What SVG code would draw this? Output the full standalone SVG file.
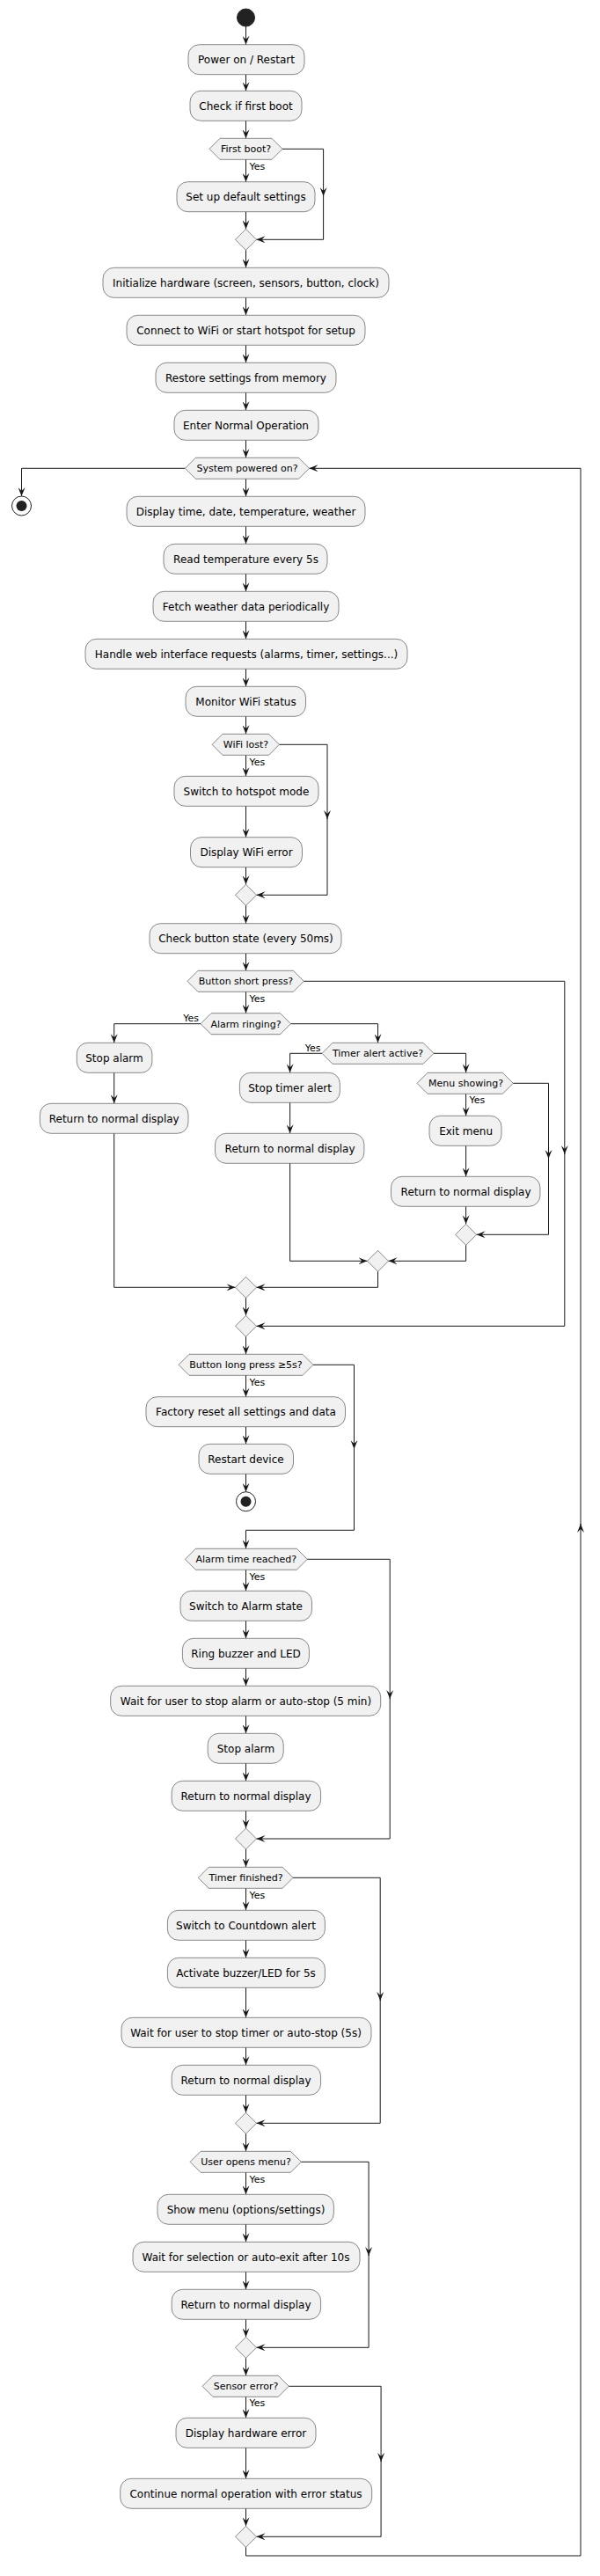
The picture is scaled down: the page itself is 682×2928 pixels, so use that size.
<svg xmlns="http://www.w3.org/2000/svg" width="682" height="2928" viewBox="0 0 682 2928">
<style>
.b{fill:#F1F1F1;stroke:#181818;stroke-width:0.5}
.t{font-family:"DejaVu Sans",sans-serif;font-size:12px;text-anchor:middle;fill:#000}
.s{font-family:"DejaVu Sans",sans-serif;font-size:11px;fill:#000}
.m{text-anchor:middle}
.e{text-anchor:end}
.c{fill:none;stroke:#181818;stroke-width:1;marker-end:url(#a)}
.n{fill:none;stroke:#181818;stroke-width:1}
</style>
<defs>
<marker id="a" markerUnits="userSpaceOnUse" viewBox="0 0 10 8" refX="10" refY="4" markerWidth="10" markerHeight="8" orient="auto">
<path d="M0,0 L10,4 L0,8 L4,4 Z" fill="#181818"/>
</marker>
</defs>
<rect width="682" height="2928" fill="#FFFFFF"/>
<g id="connectors">
<path class="c" d="M279.5,30 V50.7"/>
<path class="c" d="M279.5,84.7 V103.3"/>
<path class="c" d="M279.5,137.3 V157.3"/>
<path class="c" d="M279.5,181.3 V206.7"/>
<path class="c" d="M279.5,240.7 V260.3"/>
<path class="c" d="M321,169.3 H367.6 V223"/>
<path class="c" d="M367.6,222 V272.3 H291.5"/>
<path class="c" d="M279.5,284.3 V304.3"/>
<path class="c" d="M279.5,338.3 V358.3"/>
<path class="c" d="M279.5,392.3 V412.3"/>
<path class="c" d="M279.5,446.3 V466.3"/>
<path class="c" d="M279.5,500.3 V520.3"/>
<path class="c" d="M210.4,532.3 H24.5 V564"/>
<path class="c" d="M279.5,544.3 V564.3"/>
<path class="c" d="M279.5,598.3 V618.3"/>
<path class="c" d="M279.5,652.3 V672.3"/>
<path class="c" d="M279.5,706.3 V726.3"/>
<path class="c" d="M279.5,760.3 V780.3"/>
<path class="c" d="M279.5,814.3 V834.3"/>
<path class="c" d="M279.5,858.3 V882.3"/>
<path class="c" d="M279.5,916.3 V951.7"/>
<path class="c" d="M279.5,985.7 V1005.3"/>
<path class="c" d="M317.5,846.3 H372 V931"/>
<path class="c" d="M372,930 V1017.3 H291.5"/>
<path class="c" d="M279.5,1029.3 V1049.7"/>
<path class="c" d="M279.5,1083.7 V1103.3"/>
<path class="c" d="M279.5,1127.3 V1151.7"/>
<path class="c" d="M228,1163.7 H129.7 V1185.3"/>
<path class="c" d="M129.7,1219.3 V1254.3"/>
<path class="c" d="M330.5,1163.7 H429.5 V1185.3"/>
<path class="c" d="M366,1197.3 H329.6 V1219.3"/>
<path class="c" d="M329.6,1253.3 V1288.3"/>
<path class="c" d="M493,1197.3 H529.6 V1219.3"/>
<path class="c" d="M529.6,1243.3 V1268.3"/>
<path class="c" d="M529.6,1302.3 V1337.3"/>
<path class="c" d="M529.6,1371.3 V1391.3"/>
<path class="c" d="M583.3,1231.3 H623.5 V1317"/>
<path class="c" d="M623.5,1316 V1403.3 H541.6"/>
<path class="c" d="M329.6,1322.3 V1433.3 H417.5"/>
<path class="c" d="M529.6,1415.3 V1433.3 H441.5"/>
<path class="c" d="M129.7,1288.3 V1463.3 H267.5"/>
<path class="c" d="M429.5,1445.3 V1463.3 H291.5"/>
<path class="c" d="M279.5,1475.3 V1495.3"/>
<path class="c" d="M345.4,1115.3 H641.8 V1312"/>
<path class="c" d="M641.8,1311 V1507.3 H291.5"/>
<path class="c" d="M279.5,1519.3 V1539.3"/>
<path class="c" d="M279.5,1563.3 V1587.7"/>
<path class="c" d="M279.5,1621.7 V1641.3"/>
<path class="c" d="M279.5,1675.3 V1695.7"/>
<path class="c" d="M356,1551.3 H402.5 V1647"/>
<path class="c" d="M402.5,1646 V1739.3 H279.5 V1760.3"/>
<path class="c" d="M279.5,1784.3 V1808.3"/>
<path class="c" d="M279.5,1842.3 V1862.3"/>
<path class="c" d="M279.5,1896.3 V1916.3"/>
<path class="c" d="M279.5,1950.3 V1970.3"/>
<path class="c" d="M279.5,2004.3 V2024.3"/>
<path class="c" d="M279.5,2058.3 V2078"/>
<path class="c" d="M349.3,1772.3 H443.2 V1931"/>
<path class="c" d="M443.2,1930 V2090 H291.5"/>
<path class="c" d="M279.5,2102 V2122.3"/>
<path class="c" d="M279.5,2146.3 V2171.3"/>
<path class="c" d="M279.5,2205.3 V2225.3"/>
<path class="c" d="M279.5,2259.3 V2293.3"/>
<path class="c" d="M279.5,2327.3 V2347.3"/>
<path class="c" d="M279.5,2381.3 V2401.3"/>
<path class="c" d="M333.1,2134.3 H432.2 V2274"/>
<path class="c" d="M432.2,2273 V2413.3 H291.5"/>
<path class="c" d="M279.5,2425.3 V2445.3"/>
<path class="c" d="M279.5,2469.3 V2494.3"/>
<path class="c" d="M279.5,2528.3 V2548.3"/>
<path class="c" d="M279.5,2582.3 V2602.3"/>
<path class="c" d="M279.5,2636.3 V2656.3"/>
<path class="c" d="M342.3,2457.3 H419.1 V2564"/>
<path class="c" d="M419.1,2563 V2668.3 H291.5"/>
<path class="c" d="M279.5,2680.3 V2700.3"/>
<path class="c" d="M279.5,2724.3 V2748.3"/>
<path class="c" d="M279.5,2782.3 V2817.3"/>
<path class="c" d="M279.5,2851.3 V2871.3"/>
<path class="c" d="M328.3,2712.3 H433.1 V2798"/>
<path class="c" d="M433.1,2797 V2883.3 H291.5"/>
<path class="c" d="M279.5,2895.3 V2905 H660 V1732"/>
<path class="c" d="M660,1733 V532.3 H351.5"/>
<text class="s" x="283.5" y="193">Yes</text>
<text class="s" x="283.5" y="870">Yes</text>
<text class="s" x="283.5" y="1139">Yes</text>
<text class="s e" x="226" y="1161">Yes</text>
<text class="s e" x="364.5" y="1195">Yes</text>
<text class="s" x="533.6" y="1254">Yes</text>
<text class="s" x="283.5" y="1575">Yes</text>
<text class="s" x="283.5" y="1796">Yes</text>
<text class="s" x="283.5" y="2158">Yes</text>
<text class="s" x="283.5" y="2481">Yes</text>
<text class="s" x="283.5" y="2735">Yes</text>
</g>
<g id="start"><circle cx="279.5" cy="20" r="10" fill="#222222" stroke="#222222"/></g>
<g id="n1"><rect class="b" x="214" y="50.7" width="132" height="34" rx="12.5"/><text class="t" x="280" y="72.2">Power on / Restart</text></g>
<g id="n2"><rect class="b" x="216" y="103.3" width="127" height="34" rx="12.5"/><text class="t" x="279.5" y="124.8">Check if first boot</text></g>
<g id="d1"><polygon class="b" points="238,169.3 250,157.3 309,157.3 321,169.3 309,181.3 250,181.3"/><text class="s m" x="279.5" y="173.3">First boot?</text></g>
<g id="n3"><rect class="b" x="201" y="206.7" width="157" height="34" rx="12.5"/><text class="t" x="279.5" y="228.2">Set up default settings</text></g>
<g id="m1"><polygon class="b" points="279.5,260.3 291.5,272.3 279.5,284.3 267.5,272.3"/></g>
<g id="n4"><rect class="b" x="117" y="304.3" width="325" height="34" rx="12.5"/><text class="t" x="279.5" y="325.8">Initialize hardware (screen, sensors, button, clock)</text></g>
<g id="n5"><rect class="b" x="144" y="358.3" width="271" height="34" rx="12.5"/><text class="t" x="279.5" y="379.8">Connect to WiFi or start hotspot for setup</text></g>
<g id="n6"><rect class="b" x="177" y="412.3" width="205" height="34" rx="12.5"/><text class="t" x="279.5" y="433.8">Restore settings from memory</text></g>
<g id="n7"><rect class="b" x="198" y="466.3" width="164" height="34" rx="12.5"/><text class="t" x="279.5" y="487.8">Enter Normal Operation</text></g>
<g id="d2"><polygon class="b" points="210.4,532.3 222.4,520.3 339.5,520.3 351.5,532.3 339.5,544.3 222.4,544.3"/><text class="s m" x="281" y="536.3">System powered on?</text></g>
<g id="stop1"><circle cx="24.5" cy="575" r="11" fill="none" stroke="#222222" stroke-width="1"/><circle cx="24.5" cy="575" r="6" fill="#222222"/></g>
<g id="n8"><rect class="b" x="144" y="564.3" width="271" height="34" rx="12.5"/><text class="t" x="279.5" y="585.8">Display time, date, temperature, weather</text></g>
<g id="n9"><rect class="b" x="186" y="618.3" width="186" height="34" rx="12.5"/><text class="t" x="279.5" y="639.8">Read temperature every 5s</text></g>
<g id="n10"><rect class="b" x="174" y="672.3" width="211" height="34" rx="12.5"/><text class="t" x="279.5" y="693.8">Fetch weather data periodically</text></g>
<g id="n11"><rect class="b" x="97" y="726.3" width="366" height="34" rx="12.5"/><text class="t" x="280" y="747.8">Handle web interface requests (alarms, timer, settings...)</text></g>
<g id="n12"><rect class="b" x="211" y="780.3" width="136.5" height="34" rx="12.5"/><text class="t" x="279.5" y="801.8">Monitor WiFi status</text></g>
<g id="d3"><polygon class="b" points="241,846.3 253,834.3 305.5,834.3 317.5,846.3 305.5,858.3 253,858.3"/><text class="s m" x="279.5" y="850.3">WiFi lost?</text></g>
<g id="n13"><rect class="b" x="198" y="882.3" width="164" height="34" rx="12.5"/><text class="t" x="280" y="903.8">Switch to hotspot mode</text></g>
<g id="n14"><rect class="b" x="216.5" y="951.7" width="127" height="34" rx="12.5"/><text class="t" x="280" y="973.2">Display WiFi error</text></g>
<g id="m2"><polygon class="b" points="279.5,1005.3 291.5,1017.3 279.5,1029.3 267.5,1017.3"/></g>
<g id="n15"><rect class="b" x="170" y="1049.7" width="218" height="34" rx="12.5"/><text class="t" x="279.5" y="1071.2">Check button state (every 50ms)</text></g>
<g id="d4"><polygon class="b" points="213,1115.3 225,1103.3 333.4,1103.3 345.4,1115.3 333.4,1127.3 225,1127.3"/><text class="s m" x="279.5" y="1119.3">Button short press?</text></g>
<g id="d5"><polygon class="b" points="228,1163.7 240,1151.7 318.5,1151.7 330.5,1163.7 318.5,1175.7 240,1175.7"/><text class="s m" x="279.5" y="1167.7">Alarm ringing?</text></g>
<g id="n16"><rect class="b" x="87.3" y="1185.3" width="85.6" height="34" rx="12.5"/><text class="t" x="130" y="1206.8">Stop alarm</text></g>
<g id="n17"><rect class="b" x="45.4" y="1254.3" width="168.6" height="34" rx="12.5"/><text class="t" x="129.7" y="1275.8">Return to normal display</text></g>
<g id="d6"><polygon class="b" points="366,1197.3 378,1185.3 481,1185.3 493,1197.3 481,1209.3 378,1209.3"/><text class="s m" x="429.5" y="1201.3">Timer alert active?</text></g>
<g id="n18"><rect class="b" x="272.4" y="1219.3" width="114" height="34" rx="12.5"/><text class="t" x="329.6" y="1240.8">Stop timer alert</text></g>
<g id="n19"><rect class="b" x="244.5" y="1288.3" width="169.4" height="34" rx="12.5"/><text class="t" x="329.6" y="1309.8">Return to normal display</text></g>
<g id="d7"><polygon class="b" points="474,1231.3 486,1219.3 571.3,1219.3 583.3,1231.3 571.3,1243.3 486,1243.3"/><text class="s m" x="529.6" y="1235.3">Menu showing?</text></g>
<g id="n20"><rect class="b" x="488" y="1268.3" width="82" height="34" rx="12.5"/><text class="t" x="529.6" y="1289.8">Exit menu</text></g>
<g id="n21"><rect class="b" x="444.5" y="1337.3" width="169.4" height="34" rx="12.5"/><text class="t" x="529.6" y="1358.8">Return to normal display</text></g>
<g id="m3"><polygon class="b" points="529.6,1391.3 541.6,1403.3 529.6,1415.3 517.6,1403.3"/></g>
<g id="m4"><polygon class="b" points="429.5,1421.3 441.5,1433.3 429.5,1445.3 417.5,1433.3"/></g>
<g id="m5"><polygon class="b" points="279.5,1451.3 291.5,1463.3 279.5,1475.3 267.5,1463.3"/></g>
<g id="m6"><polygon class="b" points="279.5,1495.3 291.5,1507.3 279.5,1519.3 267.5,1507.3"/></g>
<g id="d8"><polygon class="b" points="203,1551.3 215,1539.3 344,1539.3 356,1551.3 344,1563.3 215,1563.3"/><text class="s m" x="279.5" y="1555.3">Button long press ≥5s?</text></g>
<g id="n22"><rect class="b" x="166" y="1587.7" width="226.5" height="34" rx="12.5"/><text class="t" x="279.5" y="1609.2">Factory reset all settings and data</text></g>
<g id="n23"><rect class="b" x="226" y="1641.3" width="107.5" height="34" rx="12.5"/><text class="t" x="279.5" y="1662.8">Restart device</text></g>
<g id="stop2"><circle cx="279.5" cy="1706.7" r="11" fill="none" stroke="#222222" stroke-width="1"/><circle cx="279.5" cy="1706.7" r="6" fill="#222222"/></g>
<g id="d9"><polygon class="b" points="210.4,1772.3 222.4,1760.3 337.3,1760.3 349.3,1772.3 337.3,1784.3 222.4,1784.3"/><text class="s m" x="279.8" y="1776.3">Alarm time reached?</text></g>
<g id="n24"><rect class="b" x="205" y="1808.3" width="149.5" height="34" rx="12.5"/><text class="t" x="279.5" y="1829.8">Switch to Alarm state</text></g>
<g id="n25"><rect class="b" x="207.4" y="1862.3" width="144" height="34" rx="12.5"/><text class="t" x="279.5" y="1883.8">Ring buzzer and LED</text></g>
<g id="n26"><rect class="b" x="125.7" y="1916.3" width="307" height="34" rx="12.5"/><text class="t" x="279.5" y="1937.8">Wait for user to stop alarm or auto-stop (5 min)</text></g>
<g id="n27"><rect class="b" x="236.2" y="1970.3" width="86" height="34" rx="12.5"/><text class="t" x="279.5" y="1991.8">Stop alarm</text></g>
<g id="n28"><rect class="b" x="195.2" y="2024.3" width="169.4" height="34" rx="12.5"/><text class="t" x="279.5" y="2045.8">Return to normal display</text></g>
<g id="m7"><polygon class="b" points="279.5,2078 291.5,2090 279.5,2102 267.5,2090"/></g>
<g id="d10"><polygon class="b" points="225.3,2134.3 237.3,2122.3 321.1,2122.3 333.1,2134.3 321.1,2146.3 237.3,2146.3"/><text class="s m" x="279.5" y="2138.3">Timer finished?</text></g>
<g id="n29"><rect class="b" x="190.4" y="2171.3" width="179" height="34" rx="12.5"/><text class="t" x="279.5" y="2192.8">Switch to Countdown alert</text></g>
<g id="n30"><rect class="b" x="190.4" y="2225.3" width="179" height="34" rx="12.5"/><text class="t" x="279.5" y="2246.8">Activate buzzer/LED for 5s</text></g>
<g id="n31"><rect class="b" x="138" y="2293.3" width="284" height="34" rx="12.5"/><text class="t" x="279.5" y="2314.8">Wait for user to stop timer or auto-stop (5s)</text></g>
<g id="n32"><rect class="b" x="195.2" y="2347.3" width="169.4" height="34" rx="12.5"/><text class="t" x="279.5" y="2368.8">Return to normal display</text></g>
<g id="m8"><polygon class="b" points="279.5,2401.3 291.5,2413.3 279.5,2425.3 267.5,2413.3"/></g>
<g id="d11"><polygon class="b" points="216.1,2457.3 228.1,2445.3 330.3,2445.3 342.3,2457.3 330.3,2469.3 228.1,2469.3"/><text class="s m" x="279.5" y="2461.3">User opens menu?</text></g>
<g id="n33"><rect class="b" x="179" y="2494.3" width="200.4" height="34" rx="12.5"/><text class="t" x="279.5" y="2515.8">Show menu (options/settings)</text></g>
<g id="n34"><rect class="b" x="151" y="2548.3" width="258" height="34" rx="12.5"/><text class="t" x="279.5" y="2569.8">Wait for selection or auto-exit after 10s</text></g>
<g id="n35"><rect class="b" x="195.2" y="2602.3" width="169.4" height="34" rx="12.5"/><text class="t" x="279.5" y="2623.8">Return to normal display</text></g>
<g id="m9"><polygon class="b" points="279.5,2656.3 291.5,2668.3 279.5,2680.3 267.5,2668.3"/></g>
<g id="d12"><polygon class="b" points="230,2712.3 242,2700.3 316.3,2700.3 328.3,2712.3 316.3,2724.3 242,2724.3"/><text class="s m" x="279.5" y="2716.3">Sensor error?</text></g>
<g id="n36"><rect class="b" x="200" y="2748.3" width="159" height="34" rx="12.5"/><text class="t" x="279.5" y="2769.8">Display hardware error</text></g>
<g id="n37"><rect class="b" x="136.7" y="2817.3" width="286" height="34" rx="12.5"/><text class="t" x="279.5" y="2838.8">Continue normal operation with error status</text></g>
<g id="m10"><polygon class="b" points="279.5,2871.3 291.5,2883.3 279.5,2895.3 267.5,2883.3"/></g>
</svg>
